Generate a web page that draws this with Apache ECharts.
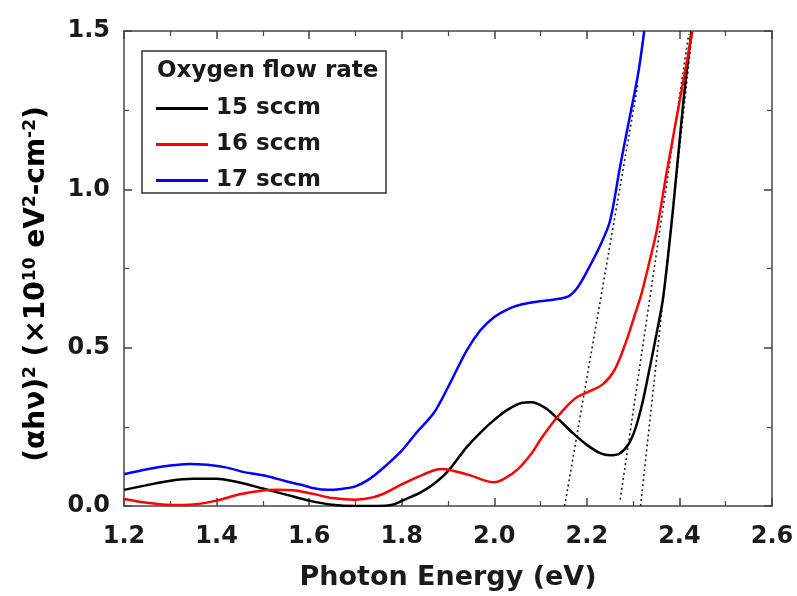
<!DOCTYPE html>
<html><head><meta charset="utf-8">
<script src="https://cdn.jsdelivr.net/npm/echarts@6/dist/echarts.min.js"></script>
<style>html,body{margin:0;padding:0;background:#fff}#c{width:797px;height:596px}</style>
</head><body><div id="c"></div>
<script>
const seriesNames = ['15 sccm','16 sccm','17 sccm'];
const black15 = [[1.20,0.051],[1.25,0.066],[1.30,0.080],[1.35,0.086],[1.40,0.086],[1.45,0.074],[1.50,0.055],[1.55,0.036],[1.60,0.017],[1.65,0.004],[1.70,0.0],[1.75,0.0],[1.78,0.004],[1.80,0.016],[1.84,0.042],[1.87,0.07],[1.90,0.11],[1.94,0.185],[1.97,0.232],[2.00,0.272],[2.03,0.305],[2.06,0.326],[2.08,0.328],[2.11,0.31],[2.14,0.272],[2.17,0.23],[2.20,0.193],[2.23,0.166],[2.25,0.16],[2.27,0.165],[2.29,0.195],[2.305,0.245],[2.32,0.325],[2.335,0.43],[2.35,0.54],[2.365,0.66],[2.387,0.95],[2.408,1.27],[2.426,1.50]];
const red16 = [[1.20,0.022],[1.25,0.01],[1.30,0.003],[1.35,0.005],[1.40,0.017],[1.45,0.037],[1.50,0.049],[1.53,0.051],[1.57,0.049],[1.61,0.038],[1.65,0.025],[1.70,0.02],[1.74,0.028],[1.77,0.045],[1.80,0.068],[1.84,0.095],[1.87,0.113],[1.89,0.117],[1.92,0.108],[1.95,0.096],[1.98,0.08],[2.00,0.075],[2.02,0.085],[2.05,0.115],[2.08,0.165],[2.10,0.21],[2.13,0.27],[2.16,0.32],[2.18,0.345],[2.21,0.365],[2.235,0.385],[2.26,0.43],[2.285,0.52],[2.305,0.61],[2.318,0.67],[2.335,0.77],[2.351,0.87],[2.372,1.05],[2.401,1.283],[2.428,1.50]];
const blue17 = [[1.20,0.10],[1.25,0.116],[1.30,0.128],[1.34,0.133],[1.38,0.13],[1.42,0.122],[1.46,0.107],[1.51,0.094],[1.55,0.078],[1.58,0.068],[1.61,0.056],[1.64,0.051],[1.67,0.054],[1.70,0.062],[1.73,0.085],[1.76,0.12],[1.80,0.175],[1.83,0.228],[1.87,0.295],[1.90,0.375],[1.94,0.49],[1.97,0.555],[2.00,0.597],[2.03,0.622],[2.06,0.637],[2.10,0.647],[2.13,0.652],[2.16,0.662],[2.18,0.69],[2.20,0.74],[2.228,0.82],[2.25,0.9],[2.272,1.074],[2.293,1.231],[2.311,1.367],[2.324,1.50]];
const fitLine1 = [[2.152,0.0],[2.31,1.33]];
const fitLine2 = [[2.272,0.02],[2.42,1.49]];
const fitLine3 = [[2.316,0.0],[2.428,1.50]];
const xTicks = {min:1.2, max:2.6, step:0.2};
const yTicks = {min:0, max:1.5, step:0.5};
const legendTitle = 'Oxygen flow rate';
const xTitle = 'Photon Energy (eV)';

const FONT = 'DejaVu Sans';
const AX = '#444';
const chart = echarts.init(document.getElementById('c'), null, {renderer:'canvas'});
function ax(extra){ return Object.assign({
  type:'value', splitLine:{show:false},
  axisLine:{show:true, onZero:false, lineStyle:{color:AX, width:1.5}},
  axisTick:{show:true, inside:true, length:8, lineStyle:{color:AX, width:1.5}},
  minorTick:{show:true, splitNumber:2, length:5, lineStyle:{color:AX, width:1.2}},
}, extra); }
const dotted = d => ({type:'line', data:d, symbol:'none', silent:true, z:1,
  lineStyle:{color:'#222', width:1.6, type:[2,3]}});
chart.setOption({
  animation:false,
  grid:{left:124, right:25, top:31, bottom:87, containLabel:false},
  xAxis:[
    ax({min:xTicks.min, max:xTicks.max, interval:xTicks.step, position:'bottom',
      axisLabel:{margin:19, fontFamily:FONT, fontWeight:'bold', fontSize:24, color:'#1a1a1a', formatter:v=>v.toFixed(1)},
      name:xTitle, nameLocation:'middle', nameGap:58,
      nameTextStyle:{fontFamily:FONT, fontWeight:'bold', fontSize:27, color:'#1a1a1a'}}),
    ax({min:xTicks.min, max:xTicks.max, interval:xTicks.step, position:'top', axisLabel:{show:false}})
  ],
  yAxis:[
    ax({min:yTicks.min, max:yTicks.max, interval:yTicks.step, position:'left',
      axisLabel:{margin:14, fontFamily:FONT, fontWeight:'bold', fontSize:24, color:'#1a1a1a', formatter:v=>v.toFixed(1)}}),
    ax({min:yTicks.min, max:yTicks.max, interval:yTicks.step, position:'right', axisLabel:{show:false}})
  ],
  legend:{data:seriesNames, orient:'vertical', left:156, top:97, icon:'rect', itemWidth:52, itemHeight:3, z:20,
    itemGap:13, padding:0, textStyle:{fontFamily:FONT, fontWeight:'bold', fontSize:23, color:'#1a1a1a', padding:[0,0,0,3]}},
  graphic:[
    {type:'rect', shape:{x:142, y:51, width:244, height:142}, style:{fill:'#fff', stroke:'#333', lineWidth:1.5}, z:5},
    {type:'text', left:157, top:60, style:{text:legendTitle, fontFamily:FONT, fontWeight:'bold', fontSize:23, fill:'#1a1a1a'}, z:21},
    {type:'text', x:37, y:284, rotation:Math.PI/2, z:21,
      style:{text:'{m|(αhν)}{s|2}{m| (×10}{s|10}{m| eV}{s|2}{m|-cm}{s|-2}{m|)}', align:'center', verticalAlign:'middle',
        rich:{m:{fontFamily:FONT, fontWeight:'bold', fontSize:28, color:'#1a1a1a'},
              s:{fontFamily:FONT, fontWeight:'bold', fontSize:17, color:'#1a1a1a', verticalAlign:'top', padding:[0,0,12,0]}}}}
  ],
  series:[
    {name:seriesNames[0], type:'line', data:black15, smooth:0.3, symbol:'none', z:3, lineStyle:{color:'#000', width:2.5}, itemStyle:{color:'#000'}},
    {name:seriesNames[1], type:'line', data:red16, smooth:0.3, symbol:'none', z:3, lineStyle:{color:'#ff0000', width:2.5}, itemStyle:{color:'#ff0000'}},
    {name:seriesNames[2], type:'line', data:blue17, smooth:0.3, symbol:'none', z:3, lineStyle:{color:'#0000ff', width:2.5}, itemStyle:{color:'#0000ff'}},
    dotted(fitLine1), dotted(fitLine2), dotted(fitLine3)
  ]
});
</script></body></html>
